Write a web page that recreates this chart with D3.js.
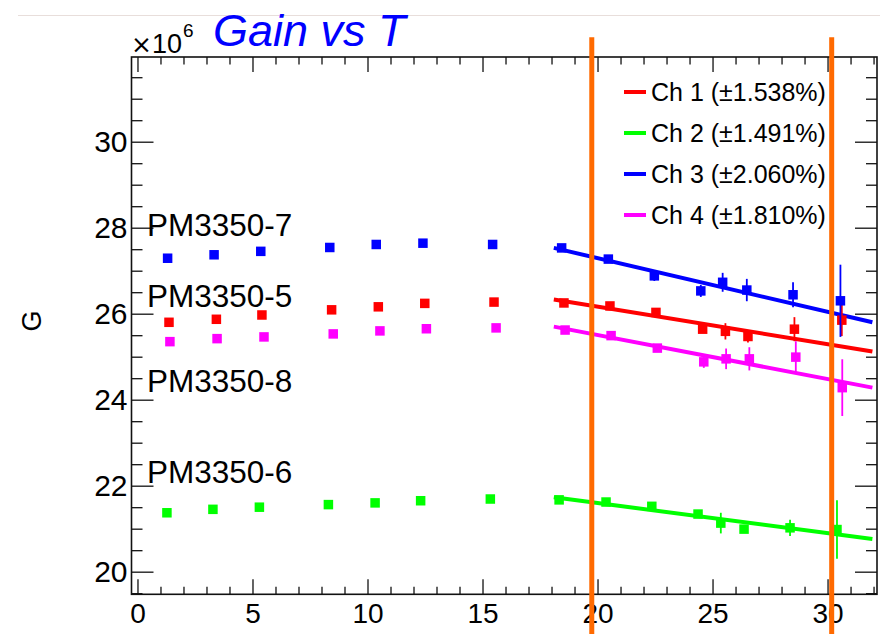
<!DOCTYPE html>
<html>
<head>
<meta charset="utf-8">
<script src="https://cdn.jsdelivr.net/npm/d3@7"></script>
<style>
  html, body { margin: 0; padding: 0; background: #fff; }
  svg { display: block; }
  text { font-family: "Liberation Sans", Arial, Helvetica, sans-serif; }
</style>
</head>
<body>
<svg id="chart" width="880" height="643"></svg>
<script>
// ---------- data ----------
const channels = ["Ch 1", "Ch 2", "Ch 3", "Ch 4"];
const channelColors = ["#ff0000", "#00ff00", "#0000ff", "#ff00ff"];
const legendLabels = ["Ch 1 (\u00b11.538%)", "Ch 2 (\u00b11.491%)", "Ch 3 (\u00b12.060%)", "Ch 4 (\u00b11.810%)"];
const pmLabels = ["PM3350-7", "PM3350-5", "PM3350-8", "PM3350-6"];

const tempCh1 = [1.37, 3.43, 5.41, 8.44, 10.47, 12.49, 15.50, 18.54, 20.54, 22.54, 24.57, 25.56, 26.54, 28.56, 30.62];
const gainCh1 = [25.80, 25.87, 25.97, 26.09, 26.16, 26.24, 26.27, 26.25, 26.18, 26.03, 25.64, 25.59, 25.47, 25.64, 25.85];
const errCh1  = [0, 0, 0, 0, 0, 0, 0, 0.05, 0.05, 0.06, 0.08, 0.19, 0.14, 0.28, 0.37];

const tempCh2 = [1.28, 3.28, 5.30, 8.30, 10.33, 12.31, 15.34, 18.33, 20.37, 22.36, 24.37, 25.36, 26.37, 28.37, 30.41];
const gainCh2 = [21.37, 21.45, 21.50, 21.56, 21.60, 21.65, 21.69, 21.67, 21.62, 21.52, 21.34, 21.13, 20.99, 21.02, 20.98];
const errCh2  = [0, 0, 0, 0, 0, 0, 0, 0.05, 0.05, 0.06, 0.08, 0.24, 0.08, 0.19, 0.68];

const tempCh3 = [1.31, 3.33, 5.36, 8.36, 10.38, 12.41, 15.44, 18.44, 20.47, 22.47, 24.49, 25.44, 26.49, 28.50, 30.56];
const gainCh3 = [27.29, 27.37, 27.45, 27.54, 27.61, 27.64, 27.61, 27.53, 27.27, 26.88, 26.53, 26.73, 26.55, 26.44, 26.30];
const errCh3  = [0, 0, 0, 0, 0, 0, 0, 0.05, 0.05, 0.12, 0.14, 0.22, 0.26, 0.29, 0.84];

const tempCh4 = [1.41, 3.46, 5.50, 8.51, 10.54, 12.56, 15.59, 18.59, 20.59, 22.60, 24.62, 25.59, 26.60, 28.62, 30.64];
const gainCh4 = [25.35, 25.42, 25.46, 25.53, 25.60, 25.65, 25.67, 25.62, 25.49, 25.20, 24.88, 24.95, 24.95, 24.99, 24.28];
const errCh4  = [0, 0, 0, 0, 0, 0, 0, 0.05, 0.05, 0.06, 0.14, 0.24, 0.27, 0.37, 0.66];

// linear fits (start / end of the drawn fit line)
const fitT = [18.1, 31.95];
const fitStartG = [26.33, 21.73, 27.53, 25.70];
const fitEndG   = [25.12, 20.76, 25.80, 24.28];

// vertical temperature cuts (orange)
const cutT = [19.75, 30.18];
const cutGRange = [18.55, 32.43];

const xTicksMajor = [0, 5, 10, 15, 20, 25, 30];
const yTicksMajor = [20, 22, 24, 26, 28, 30];

const series = [
  {t: tempCh1, g: gainCh1, e: errCh1},
  {t: tempCh2, g: gainCh2, e: errCh2},
  {t: tempCh3, g: gainCh3, e: errCh3},
  {t: tempCh4, g: gainCh4, e: errCh4}
];

// ---------- layout ----------
const frame = {left: 131.5, right: 877, top: 57, bottom: 594.3};
const svg = d3.select("#chart");

const x = d3.scaleLinear().domain([-0.26, 32.15]).range([frame.left, frame.right]);
const y = d3.scaleLinear().domain([19.474, 31.97]).range([frame.bottom, frame.top]);

// faint top rule (window edge)
svg.append("line").attr("x1", 18).attr("x2", 880).attr("y1", 15.5).attr("y2", 15.5)
  .attr("stroke", "#e8dedb").attr("stroke-width", 1.2);

// minor ticks
const xMinor = d3.range(0, 33, 1).filter(v => v % 5 !== 0);
const yMinor = d3.range(19.5, 32, 0.5).filter(v => Math.abs(v % 2) > 1e-9);

function styleAxis(g) {
  g.select(".domain").remove();
  g.selectAll(".tick line").attr("stroke", "#111").attr("stroke-width", 1.3);
}

// bottom axis
svg.append("g").attr("transform", `translate(0,${frame.bottom})`)
  .call(d3.axisBottom(x).tickValues(xTicksMajor).tickSizeInner(-15).tickSizeOuter(0).tickPadding(9).tickFormat(d3.format("d")))
  .call(styleAxis)
  .call(g => g.selectAll("text").attr("font-size", 28).attr("fill", "#000").attr("font-family", "Liberation Sans, Arial, sans-serif"));
svg.append("g").attr("transform", `translate(0,${frame.bottom})`)
  .call(d3.axisBottom(x).tickValues(xMinor).tickSizeInner(-7.5).tickSizeOuter(0).tickFormat(""))
  .call(styleAxis);
// top axis (ticks only)
svg.append("g").attr("transform", `translate(0,${frame.top})`)
  .call(d3.axisTop(x).tickValues(xTicksMajor).tickSizeInner(-15).tickSizeOuter(0).tickFormat(""))
  .call(styleAxis);
svg.append("g").attr("transform", `translate(0,${frame.top})`)
  .call(d3.axisTop(x).tickValues(xMinor).tickSizeInner(-7.5).tickSizeOuter(0).tickFormat(""))
  .call(styleAxis);
// left axis
svg.append("g").attr("transform", `translate(${frame.left},0)`)
  .call(d3.axisLeft(y).tickValues(yTicksMajor).tickSizeInner(-22).tickSizeOuter(0).tickPadding(4).tickFormat(d3.format("d")))
  .call(styleAxis)
  .call(g => g.selectAll("text").attr("font-size", 30).attr("fill", "#000").attr("font-family", "Liberation Sans, Arial, sans-serif"));
svg.append("g").attr("transform", `translate(${frame.left},0)`)
  .call(d3.axisLeft(y).tickValues(yMinor).tickSizeInner(-11).tickSizeOuter(0).tickFormat(""))
  .call(styleAxis);
// right axis
svg.append("g").attr("transform", `translate(${frame.right},0)`)
  .call(d3.axisRight(y).tickValues(yTicksMajor).tickSizeInner(-22).tickSizeOuter(0).tickFormat(""))
  .call(styleAxis);
svg.append("g").attr("transform", `translate(${frame.right},0)`)
  .call(d3.axisRight(y).tickValues(yMinor).tickSizeInner(-11).tickSizeOuter(0).tickFormat(""))
  .call(styleAxis);

// frame
svg.append("rect").attr("x", frame.left).attr("y", frame.top)
  .attr("width", frame.right - frame.left).attr("height", frame.bottom - frame.top)
  .attr("fill", "none").attr("stroke", "#111").attr("stroke-width", 1.6);

// fit lines
const plot = svg.append("g");
channels.forEach((c, i) => {
  plot.append("line")
    .attr("x1", x(fitT[0])).attr("y1", y(fitStartG[i]))
    .attr("x2", x(fitT[1])).attr("y2", y(fitEndG[i]))
    .attr("stroke", channelColors[i]).attr("stroke-width", 4);
});

// error bars + markers
const msize = 9.5;
series.forEach((s, i) => {
  const pts = s.t.map((t, j) => ({t, g: s.g[j], e: s.e[j]}));
  const grp = plot.append("g");
  grp.selectAll("line.err").data(pts.filter(d => d.e > 0)).join("line")
    .attr("class", "err")
    .attr("x1", d => x(d.t)).attr("x2", d => x(d.t))
    .attr("y1", d => y(d.g + d.e)).attr("y2", d => y(d.g - d.e))
    .attr("stroke", channelColors[i]).attr("stroke-width", 1.8);
  grp.selectAll("rect").data(pts).join("rect")
    .attr("x", d => x(d.t) - msize / 2).attr("y", d => y(d.g) - msize / 2)
    .attr("width", msize).attr("height", msize)
    .attr("fill", channelColors[i]);
});

// orange cut lines
cutT.forEach(t => {
  svg.append("line")
    .attr("x1", x(t)).attr("x2", x(t))
    .attr("y1", y(cutGRange[1])).attr("y2", y(cutGRange[0]))
    .attr("stroke", "#ff6a00").attr("stroke-width", 5);
});

// PM labels
const pmY = [236, 307, 392, 483];
pmLabels.forEach((lab, i) => {
  svg.append("text").attr("x", 147).attr("y", pmY[i])
    .attr("font-size", 31.5).attr("fill", "#000").text(lab);
});

// legend
const legY = [92, 133, 174, 215];
legendLabels.forEach((lab, i) => {
  svg.append("line").attr("x1", 624).attr("x2", 646).attr("y1", legY[i]).attr("y2", legY[i])
    .attr("stroke", channelColors[i]).attr("stroke-width", 4);
  svg.append("text").attr("x", 651).attr("y", legY[i] + 8.5)
    .attr("font-size", 25).attr("fill", "#000").text(lab);
});

// exponent label
const expT = svg.append("text").attr("x", 131).attr("y", 53).attr("font-size", 27).attr("fill", "#000");
expT.append("tspan").attr("font-family", "DejaVu Sans, sans-serif").attr("font-size", 25).text("\u00d7");
expT.append("tspan").text("10");
svg.append("text").attr("x", 183).attr("y", 37).attr("font-size", 19).attr("fill", "#000").text("6");

// y title
svg.append("text").attr("transform", "translate(41,321) rotate(-90)")
  .attr("text-anchor", "middle").attr("font-size", 27).attr("fill", "#000").text("G");

// title
svg.append("text").attr("x", 213).attr("y", 46)
  .attr("font-family", "DejaVu Sans, sans-serif").attr("font-style", "italic")
  .attr("font-size", 45).attr("fill", "#0000ff").text("Gain vs T");
</script>
</body>
</html>
